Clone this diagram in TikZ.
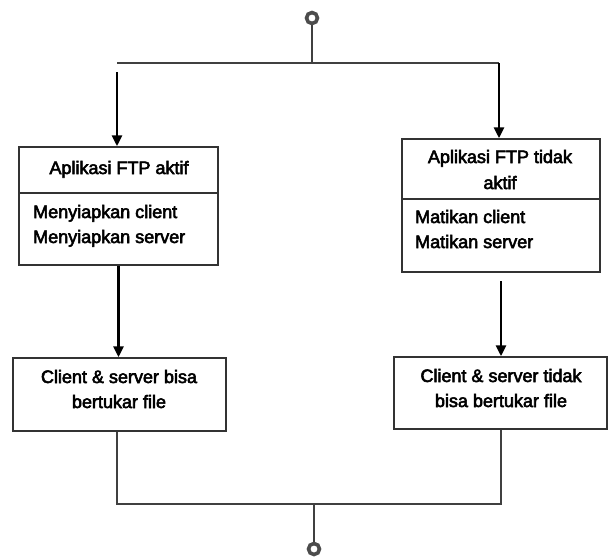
\documentclass[tikz,border=0pt]{standalone}
\usepackage{fontspec}
\setmainfont{Liberation Sans}
\newfontfamily\lblfont{Liberation Sans}[FakeBold=3]
\usetikzlibrary{arrows.meta}
\begin{document}
\begin{tikzpicture}[x=1pt,y=-1pt,
  boxshape/.style={draw=black!80, line width=1.5pt, fill=white, inner sep=0pt},
  lbl/.style={font=\lblfont\fontsize{18}{25}\selectfont, text=black, inner sep=0pt, anchor=base},
  lblw/.style={lbl, anchor=base west},
  flow/.style={draw=black, line width=2.8pt, -{Triangle[length=11pt,width=10pt]}},
  wire/.style={draw=black!75, line width=1.5pt},
  ring/.style={circle, draw=black!70, line width=3.6pt, minimum size=11pt, inner sep=0pt, fill=white}]
\useasboundingbox (0,0) rectangle (608,558);

% activity boxes
\node[boxshape, minimum width=199pt, minimum height=118pt] (A) at (118.5,206) {};
\node[boxshape, minimum width=198pt, minimum height=133pt] (B) at (501,205.5) {};
\node[boxshape, minimum width=213pt, minimum height=73pt] (C) at (119.5,394.5) {};
\node[boxshape, minimum width=213pt, minimum height=72pt] (D) at (500.5,393) {};

% compartment separators
\coordinate (sepA) at (0,193);
\coordinate (sepB) at (0,199);
\draw[boxshape] (A.west |- sepA) -- (A.east |- sepA);
\draw[boxshape] (B.west |- sepB) -- (B.east |- sepB);

% labels
\node[lbl] (At) at (119,174) {Aplikasi FTP aktif};
\node[lblw] (A1) at (33,218) {Menyiapkan client};
\node[lblw] (A2) at (33,243) {Menyiapkan server};
\node[lbl] (Bt1) at (500,163) {Aplikasi FTP tidak};
\node[lbl] (Bt2) at (500,189) {aktif};
\node[lblw] (B1) at (415,223) {Matikan client};
\node[lblw] (B2) at (415,248) {Matikan server};
\node[lbl] (C1) at (119,383) {Client \& server bisa};
\node[lbl] (C2) at (119,408) {bertukar file};
\node[lbl] (D1) at (501,382) {Client \& server tidak};
\node[lbl] (D2) at (501,407) {bisa bertukar file};

% start and end markers
\node[ring] (start) at (312,18) {};
\node[ring] (stop) at (314,549) {};

% fork at the top
\coordinate (forkT) at (312,63);
\coordinate (tl) at (117,63);
\coordinate (tr) at (499,63);
\coordinate (tlgap) at (117,72);
\draw[wire] (start.south) -- (forkT);
\draw[wire] (tl) -- (tr);
\draw[flow] (tlgap) -- (tlgap |- A.north);
\draw[flow] (tr) -- (tr |- B.north);

% down the branches
\coordinate (bgap) at (501,281);
\draw[flow] (A.south) -- (A.south |- C.north);
\draw[flow] (bgap) -- (bgap |- D.north);

% join at the bottom
\coordinate (bl) at (117,504);
\coordinate (br) at (501,504);
\coordinate (joinB) at (314,504);
\draw[wire] (C.south -| bl) -- (bl) -- (br) -- (D.south -| br);
\draw[wire] (joinB) -- (stop.north);
\end{tikzpicture}
\end{document}
